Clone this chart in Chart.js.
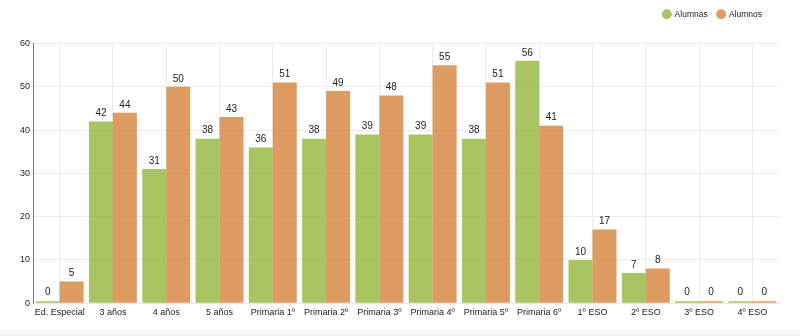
<!DOCTYPE html>
<html>
<head>
<meta charset="utf-8">
<title>Alumnado por curso</title>
<script src="https://cdn.jsdelivr.net/npm/chart.js@4/dist/chart.umd.min.js"></script>
<style>
    html, body { margin: 0; padding: 0; background: #f7f7f7; }
    #wrap { width: 800px; height: 330px; background: #fff; position: relative; }
</style>
</head>
<body>
<div id="wrap"><canvas id="myChart"></canvas></div>
<script>
    var cursos = ["Ed. Especial", "3 años", "4 años", "5 años", "Primaria 1º", "Primaria 2º",
        "Primaria 3º", "Primaria 4º", "Primaria 5º", "Primaria 6º", "1º ESO", "2º ESO", "3º ESO", "4º ESO"];
    var alumnas = [0, 42, 31, 38, 36, 38, 39, 39, 38, 56, 10, 7, 0, 0];
    var alumnos = [5, 44, 50, 43, 51, 49, 48, 55, 51, 41, 17, 8, 0, 0];
    var yTicks = [0, 10, 20, 30, 40, 50, 60];

    var FONT = '"Liberation Sans", Arial, sans-serif';

    // writes each bar's value just above it
    var valueLabels = {
        id: 'valueLabels',
        afterDatasetsDraw: function(chart) {
            var ctx = chart.ctx;
            ctx.save();
            ctx.font = '10px ' + FONT;
            ctx.fillStyle = '#222';
            ctx.textAlign = 'center';
            ctx.textBaseline = 'bottom';
            chart.data.datasets.forEach(function(ds, i) {
                chart.getDatasetMeta(i).data.forEach(function(bar, j) {
                    ctx.fillText(ds.data[j], bar.x, Math.min(bar.y, bar.base - 2) - 3);
                });
            });
            ctx.restore();
        }
    };

    // extra room under the legend, and pull it in a bit from the right edge
    var legendGap = {
        id: 'legendGap',
        beforeUpdate: function(chart) {
            if (!chart.legend || chart.legend._gapPatched) return;
            var fit = chart.legend.fit;
            chart.legend.fit = function() {
                fit.call(chart.legend);
                this.height += 15;
            };
            chart.legend._gapPatched = true;
        },
        afterUpdate: function(chart) {
            if (!chart.legend) return;
            chart.legend.right -= 7;
            chart.legend.adjustHitBoxes();
        }
    };

    var ctx = document.getElementById('myChart').getContext('2d');
    var chart = new Chart(ctx, {
        type: 'bar',
        data: {
            labels: cursos,
            datasets: [{
                label: "Alumnas",
                data: alumnas,
                backgroundColor: 'rgba(147, 182, 58, 0.8)',
                minBarLength: 2
            }, {
                label: "Alumnos",
                data: alumnos,
                backgroundColor: 'rgba(214, 128, 54, 0.78)',
                minBarLength: 2
            }]
        },
        options: {
            responsive: true,
            maintainAspectRatio: false,
            animation: false,
            layout: { padding: { left: 17, right: 21, top: 0, bottom: 8 } },
            datasets: { bar: { categoryPercentage: 0.9, barPercentage: 1.0 } },
            plugins: {
                legend: {
                    align: 'end',
                    labels: {
                        usePointStyle: true,
                        pointStyle: 'circle',
                        boxWidth: 7,
                        boxHeight: 7,
                        padding: 10,
                        color: '#222',
                        font: { family: FONT, size: 8.5 }
                    }
                },
                tooltip: { enabled: false }
            },
            scales: {
                x: {
                    grid: { offset: false, color: '#ececec', drawTicks: false },
                    border: { color: '#e6e6e6' },
                    ticks: {
                        color: '#222',
                        padding: 4,
                        autoSkip: false,
                        maxRotation: 0,
                        font: { family: FONT, size: 9 }
                    }
                },
                y: {
                    min: yTicks[0],
                    max: yTicks[yTicks.length - 1],
                    grid: { color: '#ececec', drawTicks: false },
                    border: { color: '#777' },
                    afterBuildTicks: function(axis) {
                        axis.ticks = yTicks.map(function(v) { return { value: v }; });
                    },
                    ticks: {
                        color: '#222',
                        padding: 3,
                        font: { family: FONT, size: 9 }
                    }
                }
            }
        },
        plugins: [valueLabels, legendGap]
    });
</script>
</body>
</html>
